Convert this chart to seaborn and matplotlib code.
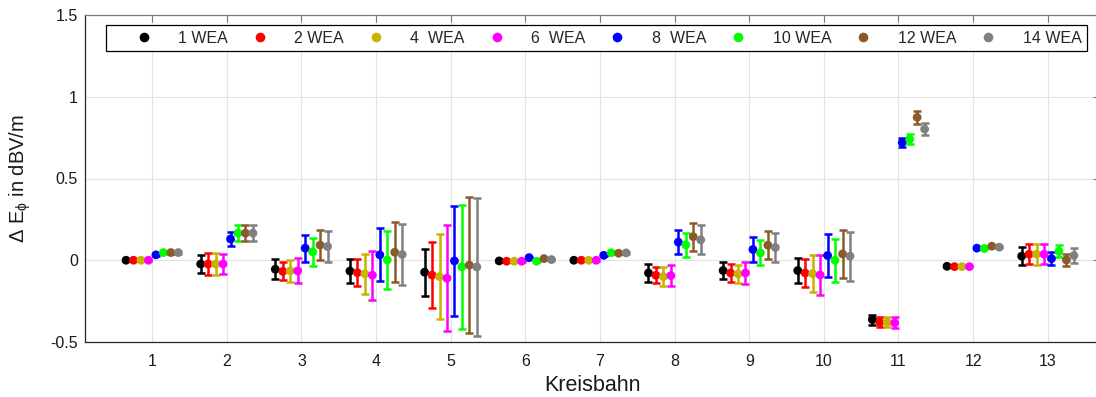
import numpy as np
import pandas as pd
import matplotlib
matplotlib.use("Agg")
import matplotlib.pyplot as plt
import seaborn as sns

# ---- data ----
kreisbahn = list(range(1, 14))
series = ["1 WEA", "2 WEA", "4  WEA", "6  WEA", "8  WEA", "10 WEA", "12 WEA", "14 WEA"]
colors = ["#000000", "#FF0000", "#C8B400", "#FF00FF", "#0000FF", "#00FF00", "#8B5A2B", "#808080"]

m_1 = [0, -0.023, -0.055, -0.066, -0.073, -0.004, 0, -0.078, -0.063, -0.063, -0.363, -0.037, 0.025]
m_2 = [0, -0.023, -0.068, -0.076, -0.091, -0.006, 0, -0.092, -0.078, -0.078, -0.380, -0.039, 0.037]
m_4 = [0, -0.023, -0.065, -0.083, -0.100, -0.006, 0, -0.100, -0.084, -0.082, -0.380, -0.039, 0.037]
m_6 = [0, -0.023, -0.065, -0.091, -0.110, -0.006, 0, -0.094, -0.078, -0.090, -0.383, -0.039, 0.037]
m_8 = [0.033, 0.130, 0.074, 0.033, -0.004, 0.016, 0.030, 0.111, 0.066, 0.029, 0.720, 0.074, 0.010]
m_10 = [0.047, 0.166, 0.051, 0.002, -0.040, -0.006, 0.046, 0.094, 0.045, 0.000, 0.740, 0.072, 0.055]
m_12 = [0.047, 0.166, 0.093, 0.049, -0.030, 0.010, 0.043, 0.144, 0.092, 0.039, 0.874, 0.086, 0.002]
m_14 = [0.047, 0.166, 0.084, 0.035, -0.041, 0.004, 0.045, 0.125, 0.078, 0.025, 0.802, 0.080, 0.029]

e_1 = [0.004, 0.057, 0.060, 0.074, 0.144, 0.004, 0.004, 0.055, 0.053, 0.075, 0.030, 0.005, 0.056]
e_2 = [0.004, 0.066, 0.055, 0.084, 0.200, 0.004, 0.004, 0.050, 0.055, 0.087, 0.030, 0.005, 0.060]
e_4 = [0.004, 0.065, 0.066, 0.123, 0.258, 0.004, 0.004, 0.057, 0.053, 0.112, 0.030, 0.005, 0.063]
e_6 = [0.004, 0.063, 0.076, 0.150, 0.323, 0.004, 0.004, 0.062, 0.070, 0.121, 0.034, 0.005, 0.060]
e_8 = [0.006, 0.043, 0.083, 0.162, 0.338, 0.005, 0.005, 0.074, 0.076, 0.132, 0.030, 0.006, 0.040]
e_10 = [0.006, 0.050, 0.087, 0.176, 0.378, 0.005, 0.005, 0.074, 0.077, 0.133, 0.030, 0.006, 0.036]
e_12 = [0.006, 0.050, 0.090, 0.183, 0.415, 0.005, 0.005, 0.085, 0.084, 0.148, 0.041, 0.006, 0.037]
e_14 = [0.006, 0.050, 0.092, 0.188, 0.420, 0.005, 0.005, 0.088, 0.088, 0.149, 0.039, 0.006, 0.043]

means = [m_1, m_2, m_4, m_6, m_8, m_10, m_12, m_14]
errs = [e_1, e_2, e_4, e_6, e_8, e_10, e_12, e_14]

# ---- build table ----
rows = []
for i, (name, mv, ev) in enumerate(zip(series, means, errs)):
    off = (i - 3.5) * 0.1
    for k, v, e in zip(kreisbahn, mv, ev):
        rows.append({"x": k + off, "y": v, "err": e, "WEA": name})
df = pd.DataFrame(rows)

sns.set_style("white")
plt.rcParams["font.family"] = ["Liberation Sans", "DejaVu Sans"]
plt.rcParams["mathtext.fontset"] = "custom"
plt.rcParams["mathtext.rm"] = "Liberation Sans"
plt.rcParams["mathtext.it"] = "Liberation Sans"

W, H = 1096, 397
fig = plt.figure(figsize=(W / 100, H / 100), dpi=100)
L, R, T, B = 85, 1100, 15, 342
ax = fig.add_axes([L / W, (H - B) / H, (R - L) / W, (B - T) / H])

for name, col in zip(series, colors):
    d = df[df["WEA"] == name]
    ax.errorbar(d["x"], d["y"], yerr=d["err"], fmt="none", ecolor=col,
                elinewidth=1.8, capsize=2.6, capthick=1.8, zorder=3)

sns.scatterplot(data=df, x="x", y="y", hue="WEA", hue_order=series,
                palette=dict(zip(series, colors)), s=40, linewidth=0,
                ax=ax, zorder=4, legend=True)

ax.set_xlim(0.1, 13.7)
ax.set_ylim(-0.5, 1.5)
ax.set_xticks(kreisbahn)
ax.set_xticklabels([str(k) for k in kreisbahn])
ax.set_yticks([-0.5, 0, 0.5, 1, 1.5])
ax.set_yticklabels(["-0.5", "0", "0.5", "1", "1.5"])
ax.grid(True, color="#e3e3e3", lw=0.8, zorder=0)
ax.set_axisbelow(True)
ax.tick_params(axis="both", direction="in", length=5, width=0.8, color="#7a7a7a",
               labelsize=11.5, labelcolor="#1a1a1a", top=True, right=True)
ax.tick_params(axis="x", pad=9)
ax.tick_params(axis="y", pad=5)
for s in ax.spines.values():
    s.set_color("#262626")
    s.set_linewidth(0.9)
ax.spines["top"].set_color("#7a7a7a")

ax.set_xlabel("Kreisbahn", fontsize=15.5, labelpad=4, color="#1a1a1a")
ax.set_ylabel(r"$\Delta$ E$_{\phi}$ in dBV/m", fontsize=14.5, color="#1a1a1a")
ax.yaxis.set_label_coords((33 - L) / (R - L), 0.5)

x0 = (106 - L) / (R - L)
x1 = (1087 - L) / (R - L)
ytop = (B - 25) / (B - T)
leg = ax.legend(loc="upper left", bbox_to_anchor=(x0, ytop - 0.09, x1 - x0, 0.09),
                mode="expand", ncol=8, fontsize=11.5, frameon=True, fancybox=False,
                edgecolor="#000000", framealpha=1, borderpad=0.35, borderaxespad=0,
                handlelength=4.0, handletextpad=0.15, columnspacing=0.5,
                markerscale=1.1, title=None)
leg.get_frame().set_linewidth(0.9)

fig.savefig("out.png", dpi=100)
